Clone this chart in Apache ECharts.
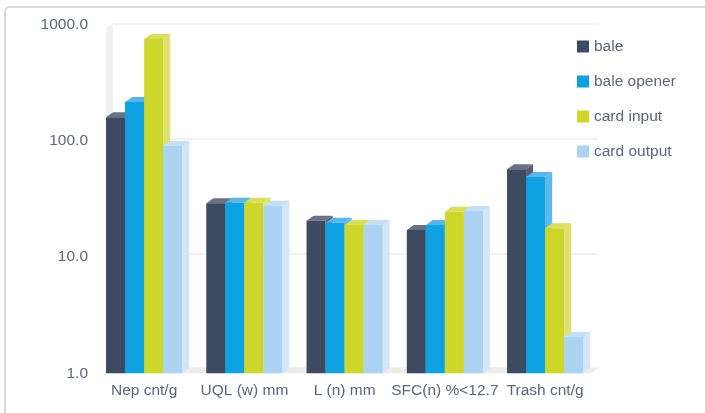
<!DOCTYPE html>
<html>
<head>
<meta charset="utf-8">
<script src="https://cdn.jsdelivr.net/npm/echarts@6/dist/echarts.min.js"></script>
<style>
html,body{margin:0;padding:0;background:#fff;}
#c{width:705px;height:413px;}
</style>
</head>
<body>
<div id="c"></div>
<script>
const categories = ['Nep cnt/g', 'UQL (w) mm', 'L (n) mm', 'SFC(n) %<12.7', 'Trash cnt/g'];
const seriesNames = ['bale', 'bale opener', 'card input', 'card output'];
const bale = [160, 29.0, 20.5, 17.1, 57];
const baleOpener = [216, 29.4, 19.8, 18.9, 49];
const cardInput = [753, 29.4, 18.9, 24.6, 17.7];
const cardOutput = [90.6, 27.7, 18.9, 24.9, 2.05];
const yTicks = [1, 10, 100, 1000];

const seriesValues = [bale, baleOpener, cardInput, cardOutput];
const faceColors = [
  {front: '#3e4a61', side: '#535d72', top: '#6a7386'},
  {front: '#0ea2e2', side: '#5bb8ec', top: '#5ab5e9'},
  {front: '#cdd72b', side: '#dde26e', top: '#d9de5c'},
  {front: '#acd2f4', side: '#d3e7f9', top: '#c5dff6'}
];
const TEXT = '#5c6579';
const FONT = 'Liberation Sans';
const DX = 7, DY = -5;

function makeRender(si) {
  return function (params, api) {
    const cat = api.value(0), val = api.value(1);
    const p0 = api.coord([0, yTicks[0]]);
    const p1 = api.coord([1, yTicks[0]]);
    const bandW = p1[0] - p0[0];
    const w = bandW * 0.19;
    const base = api.coord([cat, yTicks[0]]);
    const top = api.coord([cat, val]);
    const x0 = base[0] - 2 * w + si * w;
    const yb = base[1], yt = top[1];
    const c = faceColors[si];
    return {
      type: 'group',
      children: [
        {type: 'polygon', shape: {points: [[x0 + w, yt], [x0 + w + DX, yt + DY], [x0 + w + DX, yb + DY], [x0 + w, yb]]}, style: {fill: c.side}},
        {type: 'polygon', shape: {points: [[x0, yt], [x0 + DX, yt + DY], [x0 + w + DX, yt + DY], [x0 + w, yt]]}, style: {fill: c.top}},
        {type: 'rect', shape: {x: x0, y: yt, width: w, height: yb - yt}, style: {fill: c.front}}
      ]
    };
  };
}

const chart = echarts.init(document.getElementById('c'), null, {renderer: 'canvas'});

const series = seriesValues.map((vals, si) => ({
  type: 'custom',
  name: seriesNames[si],
  xAxisIndex: 0,
  yAxisIndex: 0,
  clip: false,
  itemStyle: {color: faceColors[si].front},
  renderItem: makeRender(si),
  encode: {x: 0, y: 1},
  data: vals.map((v, i) => [i, v]),
  z: 5
}));

const option = {
  animation: false,
  backgroundColor: '#ffffff',
  textStyle: {fontFamily: FONT},
  grid: [
    {left: 94, right: 109.75, top: 24.7, bottom: 39.7},
    {left: 113, right: 107, top: 24, bottom: 45}
  ],
  xAxis: [
    {
      type: 'category', data: categories, gridIndex: 0,
      axisLine: {show: false}, axisTick: {show: false}, splitLine: {show: false},
      axisLabel: {interval: 0, color: TEXT, fontSize: 15.5, fontFamily: FONT, margin: 9}
    },
    {
      type: 'category', data: categories, gridIndex: 1, show: false
    }
  ],
  yAxis: [
    {
      type: 'log', logBase: 10, min: 1, max: 1000, gridIndex: 0,
      axisLine: {show: false}, axisTick: {show: false}, splitLine: {show: false},
      axisLabel: {color: TEXT, fontSize: 15.5, fontFamily: FONT, margin: 6, formatter: v => Number(v).toFixed(1)}
    },
    {
      type: 'log', logBase: 10, min: 1, max: 1000, gridIndex: 1,
      axisLine: {show: false}, axisTick: {show: false}, axisLabel: {show: false},
      splitLine: {show: true, lineStyle: {color: '#ececec', width: 1.5}}
    }
  ],
  legend: {
    orient: 'vertical', left: 577, top: 38.5, padding: 0,
    icon: 'rect', itemWidth: 12, itemHeight: 12, itemGap: 19,
    data: seriesNames,
    textStyle: {color: TEXT, fontSize: 15.5, fontFamily: FONT, lineHeight: 16, padding: [0, 0, 0, 0]}
  },
  series: series
};
chart.setOption(option);

// decorations derived from grid coordinates
const gFront = chart.getModel().getComponent('grid', 0).coordinateSystem.getRect();
const gBack = chart.getModel().getComponent('grid', 1).coordinateSystem.getRect();
const fl = gBack.x - DX, fb = gFront.y + gFront.height;
const bl = gBack.x, bb = gBack.y + gBack.height, br = gBack.x + gBack.width, bt = gBack.y;
chart.setOption({
  graphic: [
    {type: 'rect', z: -10, shape: {x: 5, y: 7, width: 740, height: 440, r: 4}, style: {fill: 'none', stroke: '#dadada', lineWidth: 2}},
    {type: 'polygon', z: 1, shape: {points: [[fl, fb], [fl, bt + 3], [bl, bt], [bl, bb]]}, style: {fill: '#eff0f0'}},
    {type: 'polygon', z: 1, shape: {points: [[fl, fb], [br - DX, fb], [br, bb], [bl, bb]]}, style: {fill: '#ececec'}}
  ]
});
</script>
</body>
</html>
